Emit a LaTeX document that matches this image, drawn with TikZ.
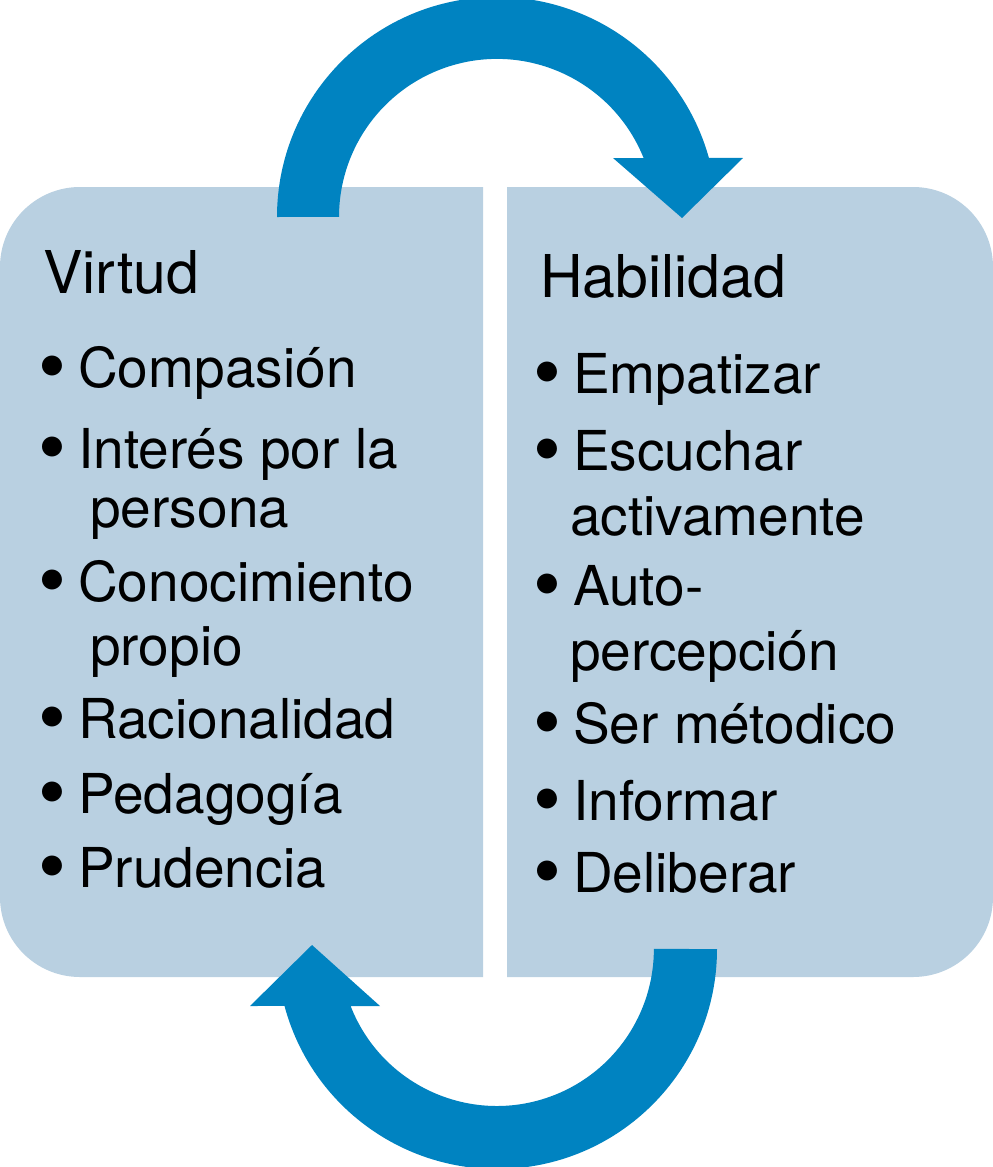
\documentclass[tikz,border=0pt]{standalone}
\usepackage{fontspec}
\setmainfont{TeX Gyre Heros}
\definecolor{panelblue}{RGB}{185,208,225}
\definecolor{arrowblue}{RGB}{0,131,193}
\newcommand{\bul}{\makebox[35pt][l]{\hspace*{-5pt}\raisebox{-6pt}{\scalebox{1.45}{•}}}}
\tikzset{
  panel/.style={fill=panelblue},
  bigarrow/.style={fill=arrowblue},
  hdr/.style={anchor=base west, inner sep=0pt, font=\fontsize{59}{60}\selectfont},
  itm/.style={anchor=base west, inner sep=0pt, font=\fontsize{55}{60}\selectfont},
}
\begin{document}
\begin{tikzpicture}[x=1pt,y=-1pt]
\fill[white] (0,0) rectangle (993,1167);
\useasboundingbox (0,0) rectangle (993,1167);
% panels
\fill[panel] (483,187) -- (80,187) arc[start angle=270,end angle=180,radius=80]
  -- (0,897) arc[start angle=180,end angle=90,radius=80] -- (483,977) -- cycle;
\fill[panel] (507,187) -- (913,187) arc[start angle=270,end angle=360,radius=80]
  -- (993,897) arc[start angle=0,end angle=90,radius=80] -- (507,977) -- cycle;
% top arrow
\fill[bigarrow] (277,217) arc[start angle=180,end angle=344.4,radius=220]
  -- (743,158) -- (682,218) -- (613,158) -- (643.6,158)
  arc[start angle=338.1,end angle=180,radius=158] -- cycle;
% bottom arrow
\fill[bigarrow] (717,949) arc[start angle=0,end angle=165,radius=220]
  -- (250,1006) -- (312,945) -- (380,1006) -- (350.6,1006)
  arc[start angle=158.7,end angle=0,radius=157] -- cycle;
% left texts
\node[hdr] (virtud) at (43,293) {Virtud};
\node[itm] (l1) at (43,387) {\bul Compasión};
\node[itm] (l2) at (43,468) {\bul Interés por la};
\node[itm] (l2b) at (90,527) {persona};
\node[itm] (l3) at (43,601) {\bul Conocimiento};
\node[itm] (l3b) at (90,665) {propio};
\node[itm] (l4) at (43,738) {\bul Racionalidad};
\node[itm] (l5) at (43,813) {\bul Pedagogía};
\node[itm] (l6) at (43,887) {\bul Prudencia};
% right texts
\node[hdr] (habilidad) at (540,297) {Habilidad};
\node[itm] (r1) at (538,393) {\bul Empatizar};
\node[itm] (r2) at (538,470) {\bul Escuchar};
\node[itm] (r2b) at (570,535) {activamente};
\node[itm] (r3) at (538,605) {\bul Auto-};
\node[itm] (r3b) at (570,670) {percepción};
\node[itm] (r4) at (538,743) {\bul Ser métodico};
\node[itm] (r5) at (538,820) {\bul Informar};
\node[itm] (r6) at (538,892) {\bul Deliberar};
\end{tikzpicture}
\end{document}
